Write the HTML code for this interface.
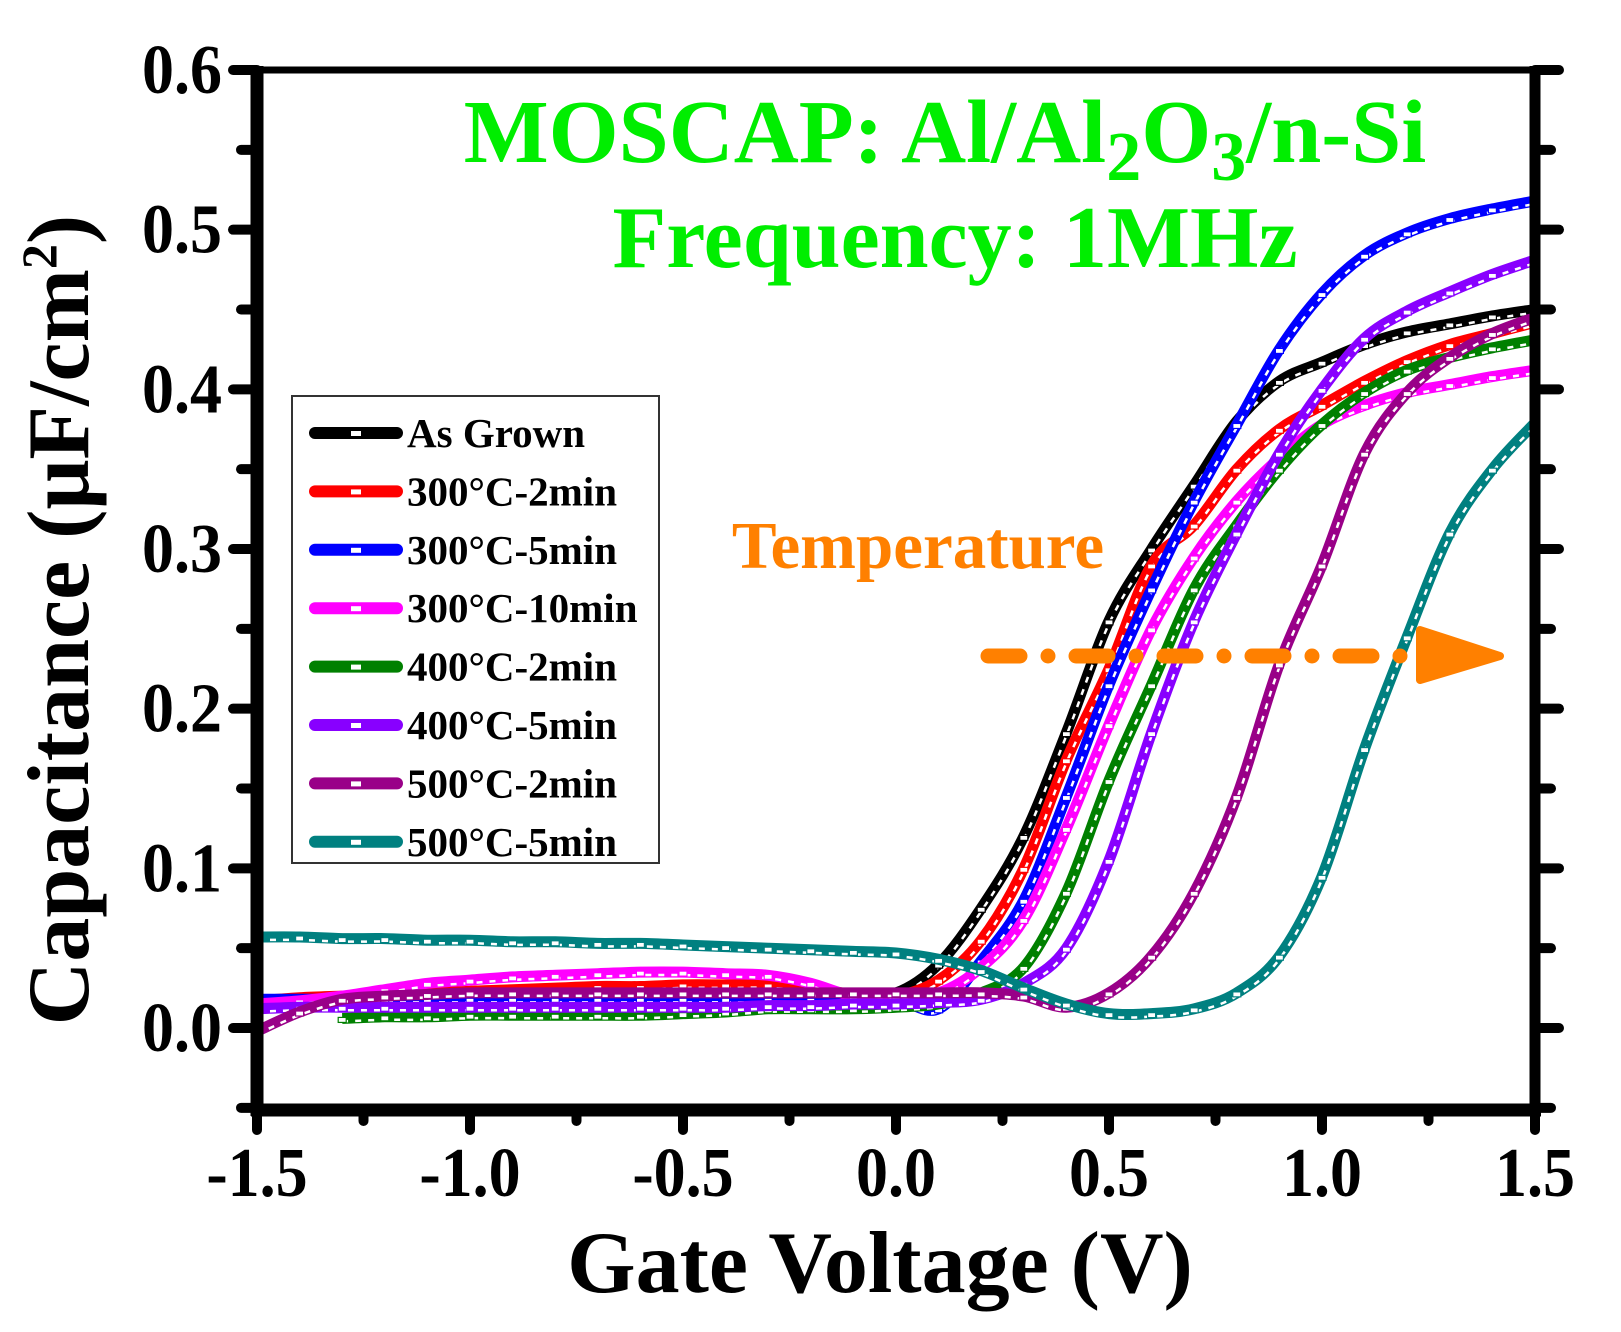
<!DOCTYPE html>
<html><head><meta charset="utf-8"><style>
html,body{margin:0;padding:0;background:#fff;}
svg{display:block;font-family:"Liberation Serif",serif;font-weight:bold;}
</style></head><body>
<svg id="chart" width="1621" height="1332" viewBox="0 0 1621 1332" xmlns="http://www.w3.org/2000/svg">
<defs><clipPath id="plotclip"><rect x="257" y="70" width="1278" height="1040"/></clipPath></defs>
<g id="series" clip-path="url(#plotclip)"></g>
<g id="axes"></g>
<text x="945" y="162" text-anchor="middle" font-size="90" fill="#00ee00">MOSCAP: Al/Al<tspan font-size="70" dy="18">2</tspan><tspan dy="-18">O</tspan><tspan font-size="70" dy="18">3</tspan><tspan dy="-18">/n-Si</tspan></text>
<text x="955" y="267" text-anchor="middle" font-size="88" fill="#00ee00">Frequency: 1MHz</text>
<text x="918" y="568" text-anchor="middle" font-size="67" fill="#ff8000">Temperature</text>
<g>
<line x1="988" y1="656" x2="1430" y2="656" stroke="#ff8000" stroke-width="15" stroke-linecap="round" stroke-dasharray="32,28,0,28"/>
<polygon points="1420,630 1500,656 1420,680" fill="#ff8000" stroke="#ff8000" stroke-width="8" stroke-linejoin="round"/>
</g>
<g id="legend">
<rect x="292" y="396" width="367" height="467" fill="#fff" stroke="#333" stroke-width="2"/>
</g>
<text x="880" y="1292" text-anchor="middle" font-size="88">Gate Voltage (V)</text>
<text transform="translate(88,620) rotate(-90)" text-anchor="middle" font-size="88">Capacitance (μF/cm<tspan font-size="50" dy="-32">2</tspan><tspan dy="32">)</tspan></text>
</svg>
<script>
const voltages = [-1.5,-1.4,-1.3,-1.2,-1.1,-1.0,-0.9,-0.8,-0.7,-0.6,-0.5,-0.4,-0.3,-0.2,-0.1,0.0,0.1,0.2,0.3,0.4,0.5,0.6,0.7,0.8,0.9,1.0,1.1,1.2,1.3,1.4,1.5];
const seriesNames = ["As Grown","300°C-2min","300°C-5min","300°C-10min","400°C-2min","400°C-5min","500°C-2min","500°C-5min"];
const asGrown   = [0.015,0.016,0.017,0.018,0.019,0.019,0.02,0.02,0.02,0.021,0.021,0.021,0.021,0.021,0.021,0.022,0.04,0.075,0.12,0.185,0.255,0.30,0.34,0.38,0.405,0.417,0.428,0.436,0.441,0.446,0.45];
const c300_2    = [0.017,0.019,0.02,0.021,0.022,0.023,0.024,0.025,0.026,0.026,0.027,0.027,0.027,0.025,0.021,0.02,0.03,0.055,0.10,0.168,0.225,0.29,0.315,0.35,0.375,0.39,0.405,0.418,0.428,0.435,0.442];
const c300_5    = [0.018,0.018,0.018,0.018,0.018,0.018,0.018,0.018,0.018,0.018,0.018,0.018,0.018,0.018,0.018,0.018,0.012,0.042,0.08,0.145,0.215,0.275,0.33,0.378,0.425,0.46,0.484,0.498,0.507,0.513,0.518];
const c300_10   = [0.015,0.017,0.02,0.024,0.028,0.03,0.032,0.033,0.034,0.035,0.035,0.034,0.033,0.028,0.02,0.02,0.022,0.038,0.068,0.125,0.19,0.25,0.295,0.33,0.357,0.378,0.39,0.398,0.403,0.408,0.412];
const c400_2    = [null,null,0.006,0.007,0.007,0.008,0.008,0.008,0.008,0.008,0.009,0.01,0.012,0.012,0.012,0.013,0.015,0.022,0.038,0.085,0.155,0.215,0.275,0.315,0.35,0.378,0.398,0.412,0.42,0.426,0.431];
const c400_5    = [0.012,0.013,0.013,0.013,0.013,0.013,0.013,0.013,0.013,0.013,0.013,0.013,0.014,0.014,0.015,0.015,0.016,0.018,0.028,0.05,0.105,0.185,0.255,0.31,0.36,0.40,0.432,0.449,0.461,0.472,0.481];
const c500_2    = [-0.002,0.01,0.018,0.02,0.021,0.022,0.022,0.022,0.022,0.022,0.022,0.022,0.022,0.022,0.022,0.022,0.022,0.022,0.02,0.013,0.022,0.045,0.085,0.145,0.228,0.29,0.36,0.398,0.42,0.435,0.445];
const c500_5    = [0.057,0.057,0.056,0.056,0.055,0.055,0.054,0.054,0.053,0.053,0.052,0.051,0.05,0.049,0.048,0.047,0.043,0.036,0.025,0.015,0.009,0.009,0.012,0.022,0.045,0.095,0.175,0.245,0.31,0.35,0.379];
const seriesColors = ["#000000","#ff0000","#0000ff","#ff00ff","#008000","#8800ff","#990088","#008080"];
const xTickValues = [-1.5,-1.0,-0.5,0.0,0.5,1.0,1.5];
const xTickLabels = ["-1.5","-1.0","-0.5","0.0","0.5","1.0","1.5"];
const yTickValues = [0.0,0.1,0.2,0.3,0.4,0.5,0.6];
const yTickLabels = ["0.0","0.1","0.2","0.3","0.4","0.5","0.6"];

const NS = "http://www.w3.org/2000/svg";
const X0=257, X1=1535, Y0=1028, YTOP=70, YBOT=1110;
function xScale(v){ return X0 + (v+1.5)/3*(X1-X0); }
function yScale(c){ return Y0 - c/0.6*(Y0-YTOP); }
function mk(tag, attrs, parent){ const e=document.createElementNS(NS,tag); for(const k in attrs) e.setAttribute(k,attrs[k]); parent.appendChild(e); return e; }
function smoothPath(pts){
  let d="M"+pts[0][0].toFixed(1)+","+pts[0][1].toFixed(1);
  for(let i=0;i<pts.length-1;i++){
    const p0=pts[Math.max(0,i-1)],p1=pts[i],p2=pts[i+1],p3=pts[Math.min(pts.length-1,i+2)];
    const c1=[p1[0]+(p2[0]-p0[0])/6,p1[1]+(p2[1]-p0[1])/6];
    const c2=[p2[0]-(p3[0]-p1[0])/6,p2[1]-(p3[1]-p1[1])/6];
    d+="C"+c1[0].toFixed(1)+","+c1[1].toFixed(1)+" "+c2[0].toFixed(1)+","+c2[1].toFixed(1)+" "+p2[0].toFixed(1)+","+p2[1].toFixed(1);
  }
  return d;
}
const allSeries=[asGrown,c300_2,c300_5,c300_10,c400_2,c400_5,c500_2,c500_5];
const sg=document.getElementById("series");
allSeries.forEach((vals,si)=>{
  const pts=[];
  vals.forEach((c,i)=>{ if(c!==null) pts.push([xScale(voltages[i]),yScale(c)]); });
  const d=smoothPath(pts);
  const g=mk("g",{},sg);
  
  
  const line=mk("path",{d:d,fill:"none",stroke:seriesColors[si],"stroke-width":11,"stroke-linejoin":"round"},g);
  
  
  const mkr=mk("path",{d:d,fill:"none",stroke:"#fff","stroke-width":2.5,"stroke-dasharray":"6,7",transform:"translate(0,3)"},g);
  
  
  pts.forEach(p=>{
    const r=mk("rect",{x:p[0]-4,y:p[1]-1,width:8,height:5,fill:"#fff",stroke:seriesColors[si],"stroke-width":1.2},g);
    
    
  });
});
const ax=document.getElementById("axes");
const frameT=mk("line",{x1:X0,y1:YTOP,x2:X1,y2:YTOP,stroke:"#000","stroke-width":7},ax);


const frameB=mk("line",{x1:X0-6,y1:YBOT,x2:X1+6,y2:YBOT,stroke:"#000","stroke-width":13},ax);


const frameL=mk("line",{x1:X0,y1:YTOP-4,x2:X0,y2:YBOT+6,stroke:"#000","stroke-width":13},ax);


const frameR=mk("line",{x1:X1,y1:YTOP-4,x2:X1,y2:YBOT+6,stroke:"#000","stroke-width":11},ax);


for(let k=0;k<=12;k++){
  const v=-1.5+k*0.25, x=xScale(v), major=(k%2===0);
  const t=mk("line",{x1:x,y1:YBOT,x2:x,y2:major?1130:1121,stroke:"#000","stroke-width":10,"stroke-linecap":"round"},ax);
  
  
}
for(let k=-1;k<=12;k++){
  const c=k*0.05, y=yScale(c), major=(k>=0 && k%2===0);
  const tl=mk("line",{x1:X0,y1:y,x2:major?233:241,y2:y,stroke:"#000","stroke-width":10,"stroke-linecap":"round"},ax);
  
  
  const tr=mk("line",{x1:X1,y1:y,x2:major?1559:1551,y2:y,stroke:"#000","stroke-width":10,"stroke-linecap":"round"},ax);
  
  
}
xTickValues.forEach((v,i)=>{
  const t=mk("text",{"text-anchor":"middle","font-size":64,transform:"translate("+xScale(v)+",1196) scale(1,1.1)"},ax);
  t.textContent=xTickLabels[i];
  
  
});
yTickValues.forEach((c,i)=>{
  const t=mk("text",{"text-anchor":"end","font-size":64,transform:"translate(222,"+(yScale(c)+23)+") scale(1,1.1)"},ax);
  t.textContent=yTickLabels[i];
  
  
});
const lg=document.getElementById("legend");
seriesNames.forEach((n,i)=>{
  const y=433+i*58.4;
  const g=mk("g",{},lg);
  
  
  mk("line",{x1:315,y1:y,x2:397,y2:y,stroke:seriesColors[i],"stroke-width":12,"stroke-linecap":"round"},g);
  mk("rect",{x:351,y:y-2,width:10,height:5,fill:"#fff"},g);
  const t=mk("text",{x:407,y:y+14,"font-size":41},g);
  t.textContent=n;
  
  
});
</script>
</body></html>
